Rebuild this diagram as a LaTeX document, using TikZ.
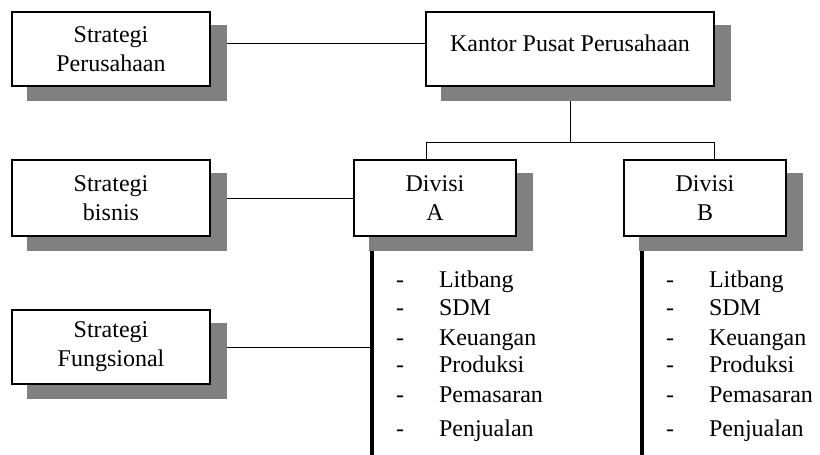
\documentclass[tikz,border=0pt]{standalone}
\usepackage{fontspec}
\setmainfont{Liberation Serif}
\usetikzlibrary{positioning}
\usetikzlibrary{calc}
\usetikzlibrary{backgrounds}
\definecolor{shadowgray}{RGB}{128,128,128}

\begin{document}
\begin{tikzpicture}[
	x=1pt,y=-1pt,
	font=\fontsize{24pt}{29pt}\selectfont,
	box/.style={draw,fill=white,line width=2pt,align=center,inner sep=0pt,minimum height=74pt},
	stratbox/.style={box,minimum width=198pt},
	divbox/.style={box,minimum width=162pt,minimum height=76pt},
	item/.style={anchor=west,inner sep=0pt,text height=16pt,text depth=5pt},
	dashnode/.style={inner sep=0pt,text height=16pt,text depth=5pt},
	line width=2pt
]

	% definitions
	\def\dx{16}
	\def\dy{14}

	\useasboundingbox (0,0) rectangle (820,455);

	% define nodes
	\node[stratbox] (strPerusahaan) at (111,49) {Strategi\\Perusahaan};
	\node[box,minimum width=288pt,text height=32pt,text depth=28pt] (kantor) at (570,49) {Kantor Pusat Perusahaan};
	\node[stratbox,minimum height=76pt] (strBisnis) at (111,198) {Strategi\\bisnis};
	\node[divbox] (divA) at (435,198) {Divisi\\A};
	\node[divbox] (divB) at (705,198) {Divisi\\B};
	\node[stratbox] (strFungsional) at (111,347) {Strategi\\Fungsional};

	\coordinate (split) at (570,142);
	\coordinate (aTop) at (426,142);
	\coordinate (bTop) at (714,142);
	\coordinate (aEnd) at (372,455);
	\coordinate (bEnd) at (642,455);

	% lists
	\foreach \d/\xd in {A/400,B/670}{
		\foreach \y/\t [count=\i] in {282/Litbang,310/SDM,340/Keuangan,367/Produksi,397/Pemasaran,431/Penjualan}{
			\node[dashnode] (dash\d\i) at (\xd,\y) {-};
			\node[item] (item\d\i) at (\xd+38,\y) {\t};
		}
	}

	\begin{scope}[on background layer]
		% draw connectors
		\draw ([yshift=6pt]strPerusahaan.east) -- ([yshift=6pt]strPerusahaan.east -| kantor.west);
		\draw (kantor.south) -- (split);
		\draw (divA.north -| aTop) -- (aTop) -- (bTop) -- (divB.north -| bTop);
		\draw (strBisnis.east) -- (divA.west);
		\draw (strFungsional.east) -- (strFungsional.east -| aEnd);
		\draw[line width=3.5pt] (divA.south -| aEnd) -- (aEnd);
		\draw[line width=3.5pt] (divB.south -| bEnd) -- (bEnd);

		% draw shadows
		\foreach \n in {strPerusahaan,kantor,strBisnis,divA,divB,strFungsional}{
			\fill[shadowgray] ($(\n.north west)+(\dx,\dy)$) rectangle ($(\n.south east)+(\dx,\dy)$);
		}
	\end{scope}

\end{tikzpicture}
\end{document}
